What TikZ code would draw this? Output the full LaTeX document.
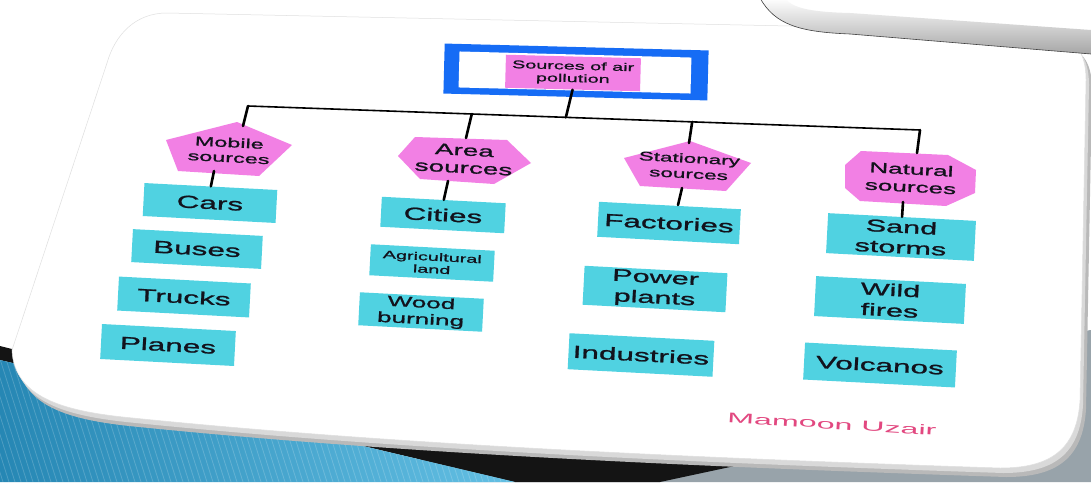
\documentclass[tikz,border=0pt]{standalone}
\usepackage{fontspec}
\setmainfont{Liberation Sans}
\newfontfamily\wf[FakeStretch=1.8,FakeBold=1.2]{Liberation Sans}
\newfontfamily\wsig[FakeStretch=2.3]{Liberation Sans}
\usetikzlibrary{calc}
\definecolor{cyanbox}{RGB}{80,210,225}
\definecolor{pinkbox}{RGB}{242,128,228}
\definecolor{blueframe}{RGB}{22,108,245}
\definecolor{sigpink}{RGB}{226,72,128}
\definecolor{txt}{RGB}{18,18,28}
\definecolor{slideblue}{RGB}{38,135,180}
\definecolor{slideblue2}{RGB}{100,192,228}
\definecolor{under}{RGB}{152,163,170}
\tikzset{cardpath/.style={insert path={(167,13) -- (790,26) -- (1062,40) .. controls (1080,42) and (1086,60) .. (1086,80) -- (1080,400) .. controls (1077,450) and (1050,468) .. (1000,468) .. controls (700,458) and (400,445) .. (133,418) .. controls (70,412) and (14,400) .. (12,350) -- (107,63) .. controls (115,35) and (135,13) .. (167,13) -- cycle}}}
\begin{document}
\begin{tikzpicture}[x=1pt,y=-1pt,
  leaf/.style={fill=cyanbox, rotate=-3, inner sep=0pt, text=txt, align=center, font=\wf\fontsize{17.5}{17.5}\selectfont},
  leaftwo/.style={leaf, font=\wf\fontsize{17}{20.5}\selectfont},
  hub/.style={rotate=-3, inner sep=0pt, text=txt, align=center},
  stem/.style={line width=2.6pt, line cap=round, draw=black},
  barline/.style={line width=1.6pt, draw=black}]
\useasboundingbox (0,0) rectangle (1091,482);
% ---------- slide background ----------
\fill[white] (0,0) rectangle (1091,482);
\fill[under] (420,430) -- (1091,330) -- (1091,482) -- (420,482) -- cycle;
\fill[black!92] (0,346) -- (330,430) -- (800,452) -- (660,482) -- (515,482) -- (0,360) -- cycle;
\begin{scope}
  \clip (0,360) -- (515,482) -- (0,482) -- cycle;
  \shade[left color=slideblue, right color=slideblue2] (0,340) rectangle (520,482);
  \foreach \i in {-300,-294,...,560} \draw[white, opacity=0.18, line width=0.8pt] (\i,340) -- (\i+45,482);
\end{scope}
% card with thickness
\fill[gray!55, shift={(6,9)}, cardpath];
\fill[gray!30, shift={(3,5)}, cardpath];
\fill[white, cardpath];
\draw[gray!25, line width=0.5pt, cardpath];
% top-right card
\fill[white] (760,-2) .. controls (775,25) and (800,32) .. (850,34) -- (1091,54) -- (1091,-2) -- cycle;
\shade[top color=white, bottom color=gray!70] (785,-2) .. controls (792,8) and (810,12) .. (850,13) -- (1091,30) -- (1091,54) -- (850,34) .. controls (800,32) and (775,25) .. (760,-2) -- cycle;
\draw[gray!50!black, line width=0.6pt] (760,-2) .. controls (775,25) and (800,32) .. (850,34) -- (1091,54);
% ---------- diagram ----------
% root
\node[rotate=-1.5, fill=blueframe, minimum width=264pt, minimum height=50pt, inner sep=0pt] (srcframe) at (576,72) {};
\node[rotate=-1.5, fill=white, minimum width=232pt, minimum height=36pt, inner sep=0pt] (srcin) at (575,72.5) {};
\node[rotate=-1.5, fill=pinkbox, minimum width=135pt, minimum height=33pt, inner sep=0pt, align=center, font=\wf\fontsize{11}{12.5}\selectfont, text=txt] (src) at (573,73) {Sources of air\\pollution};
% bar
\coordinate (barL) at (248,106);
\coordinate (barR) at (920,130);
\coordinate (jS) at ($(barL)!0.473!(barR)$);
\coordinate (jA) at ($(barL)!0.333!(barR)$);
\coordinate (jT) at ($(barL)!0.661!(barR)$);
\draw[barline] (barL) -- (barR);
\draw[stem] (src.south) -- (jS);
% category shapes
\fill[pinkbox] (237,122) -- (292,145) -- (259,176) -- (178,171) -- (166,140) -- cycle;
\fill[pinkbox] (415,137) -- (507,140) -- (531,163) -- (494,184) -- (420,179) -- (398,156) -- cycle;
\fill[pinkbox] (690,141) -- (751,163) -- (726,191) -- (640,186) -- (624,158) -- cycle;
\fill[pinkbox] (861,151) -- (948,155) -- (976,170) -- (975,193) -- (946,206) -- (860,201) -- (845,188) -- (845,165) -- cycle;
\node[hub, font=\wf\fontsize{13}{15}\selectfont] (mob) at (229,150) {Mobile\\sources};
\node[hub, font=\wf\fontsize{15.5}{17.5}\selectfont] (area) at (464,159) {Area\\sources};
\node[hub, font=\wf\fontsize{12.5}{15.5}\selectfont] (stat) at (689,166) {Stationary\\sources};
\node[hub, font=\wf\fontsize{14.5}{17.5}\selectfont] (nat) at (911,178) {Natural\\sources};
\coordinate (mobT) at (243,126);
\coordinate (areaT) at (466,138);
\coordinate (statT) at (689,143);
\coordinate (natT) at (917,153);
\coordinate (mobB) at (214,171);
\coordinate (areaB) at (448,181);
\coordinate (statB) at (682,188);
\coordinate (natB) at (903,202);
\draw[stem] (barL) -- (mobT);
\draw[stem] (jA) -- (areaT);
\draw[stem] (jT) -- (statT);
\draw[stem] (barR) -- (natT);
% leaves
\node[leaf, minimum width=133pt, minimum height=33pt] (cars) at (210,203) {Cars};
\node[leaf, minimum width=130pt, minimum height=33pt] (buses) at (197,249) {Buses};
\node[leaf, minimum width=132pt, minimum height=34pt] (trucks) at (184,297) {Trucks};
\node[leaf, minimum width=134pt, minimum height=35pt] (planes) at (168,345) {Planes};
\node[leaf, minimum width=124pt, minimum height=30pt] (cities) at (443,215) {Cities};
\node[leaf, minimum width=124pt, minimum height=31pt, font=\wf\fontsize{11}{12.5}\selectfont] (agri) at (432,263) {Agricultural\\land};
\node[leaf, minimum width=124pt, minimum height=33pt, font=\wf\fontsize{14.5}{16.5}\selectfont] (wood) at (421,312) {Wood\\burning};
\node[leaf, minimum width=142pt, minimum height=35pt] (fact) at (669,223) {Factories};
\node[leaftwo, minimum width=143pt, minimum height=39pt] (power) at (655,289) {Power\\plants};
\node[leaf, minimum width=145pt, minimum height=36pt] (indus) at (641,355) {Industries};
\node[leaftwo, minimum width=148pt, minimum height=40pt] (sand) at (901,237) {Sand\\storms};
\node[leaftwo, minimum width=150pt, minimum height=40pt] (wild) at (890,300) {Wild\\fires};
\node[leaf, minimum width=152pt, minimum height=37pt] (volc) at (880,365) {Volcanos};
\coordinate (factT) at (678,205);
\draw[stem] (mobB) -- (cars.north);
\draw[stem] (areaB) -- (cities.north);
\draw[stem] (statB) -- (factT);
\draw[stem] (natB) -- (sand.north);
% signature
\node[rotate=-3.5, text=sigpink, font=\wsig\fontsize{14}{14}\selectfont, inner sep=0pt] (sig) at (832,424) {Mamoon Uzair};
\end{tikzpicture}
\end{document}
